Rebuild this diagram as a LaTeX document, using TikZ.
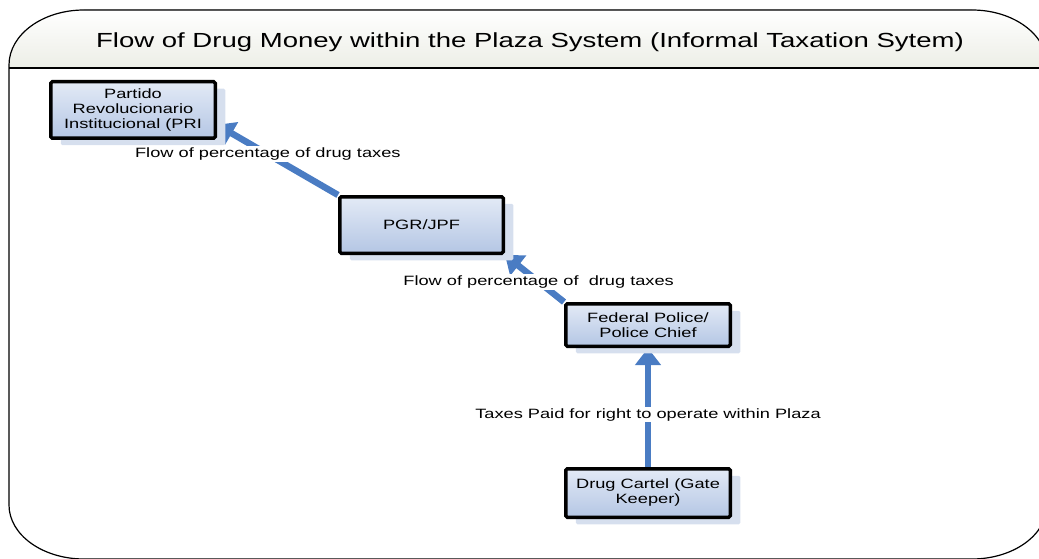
\documentclass[tikz,border=0pt]{standalone}
\usepackage{fontspec}
\setmainfont{Liberation Sans}[FakeStretch=1.35]
\usepackage{tikz}
\usetikzlibrary{positioning}
\usetikzlibrary{shadows}
\usetikzlibrary{arrows.meta}
\pgfdeclarelayer{frame}
\pgfdeclarelayer{flow}
\pgfsetlayers{frame,flow,main}
\definecolor{arrowblue}{RGB}{74,124,195}
\definecolor{boxtop}{RGB}{227,234,246}
\definecolor{boxbottom}{RGB}{180,198,228}
\definecolor{shadowblue}{RGB}{214,223,238}
\definecolor{headergrey}{RGB}{236,238,230}
\tikzset{
  frame_line/.style={draw=black, line width=1.2pt},
  header_fill/.style={top color=white, bottom color=headergrey},
  title_text/.style={font=\fontsize{20.4}{23}\selectfont, inner sep=0},
  org_box/.style={rectangle, draw=black, line width=3.5pt, rounded corners=1.5pt,
    top color=boxtop, bottom color=boxbottom, align=center, inner sep=0,
    font=\fontsize{13.5}{15}\selectfont,
    general shadow={shadow xshift=10pt, shadow yshift=-7pt, fill=shadowblue, draw=none}},
  arrow_flow/.style={-{Triangle[width=25pt, length=17pt]}, line width=6.5pt, color=arrowblue},
  flow_label/.style={fill=white, text=black, inner xsep=1pt, inner ysep=1.5pt,
    font=\fontsize{13.5}{15}\selectfont}
}
\begin{document}
\begin{tikzpicture}[x=1pt, y=-1pt]
\useasboundingbox (0,0) rectangle (1039,559);

%% Frame
\begin{pgfonlayer}{frame}
\fill[header_fill] (9,68) -- (9,65) arc[start angle=180, end angle=90, x radius=75pt, y radius=55pt]
  -- (972,10) arc[start angle=90, end angle=0, x radius=75pt, y radius=55pt] -- (1047,68) -- cycle;
\draw[frame_line] (9,65) arc[start angle=180, end angle=90, x radius=75pt, y radius=55pt]
  -- (972,10) arc[start angle=90, end angle=0, x radius=75pt, y radius=55pt]
  -- (1047,505) arc[start angle=0, end angle=-90, x radius=75pt, y radius=54pt]
  -- (84,559) arc[start angle=-90, end angle=-180, x radius=75pt, y radius=54pt] -- cycle;
\draw[frame_line] (9,68) -- (1047,68);
\end{pgfonlayer}

\node[title_text] at (530,42) (title) {Flow of Drug Money within the Plaza System (Informal Taxation Sytem)};

%% Boxes
\node[org_box, minimum width=164.5pt, minimum height=56.5pt] at (133,110)   (pri) {Partido\\Revolucionario\\Institucional (PRI};
\node[org_box, minimum width=163.5pt, minimum height=56.5pt] at (421.5,225) (pgr) {PGR/JPF};
\node[org_box, minimum width=164.5pt, minimum height=42.5pt] at (648,325)   (fedpol) {Federal Police/\\Police Chief};
\node[org_box, minimum width=164.5pt, minimum height=48.5pt] at (648,493)   (cartel) {Drug Cartel (Gate\\Keeper)};

%% Flows
\begin{pgfonlayer}{flow}
\draw[arrow_flow] (pgr.north west) -- node[flow_label, pos=0.58] {Flow of percentage of drug taxes} (pri.-10);
\draw[arrow_flow] (fedpol.north west) -- node[flow_label, pos=0.43] {Flow of percentage of \ drug taxes} (pgr.south east);
\draw[arrow_flow] (cartel.north) -- node[flow_label, pos=0.44] {Taxes Paid for right to operate within Plaza} (fedpol.south);
\end{pgfonlayer}

\end{tikzpicture}
\end{document}
